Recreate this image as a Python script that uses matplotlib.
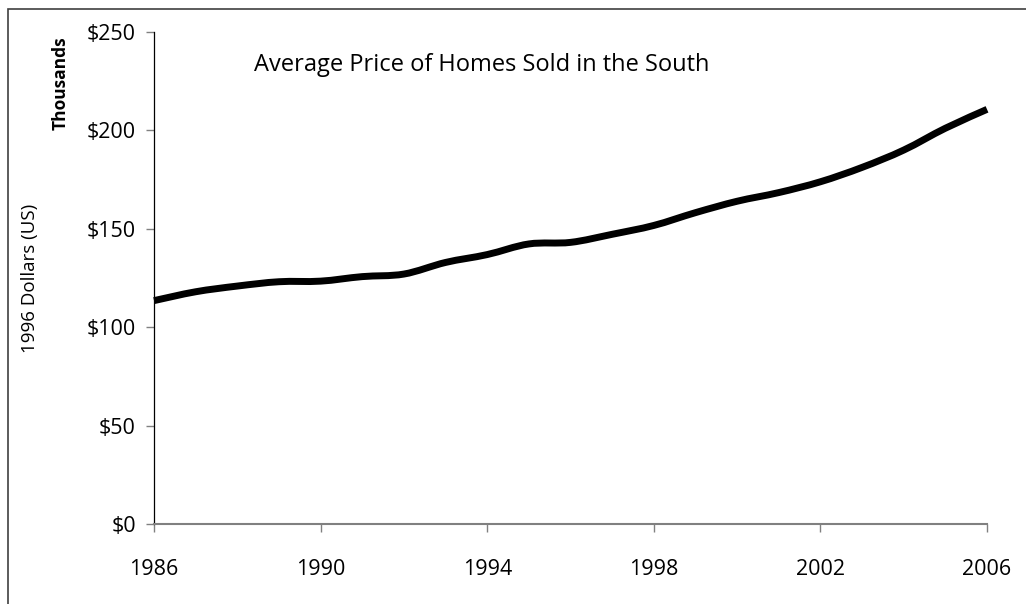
import matplotlib.pyplot as plt
from matplotlib.patches import Rectangle, PathPatch
from matplotlib.path import Path

years = list(range(1986, 2007))
prices = [113.5, 118.0, 120.9, 123.1, 123.4, 125.7, 127.0, 132.9, 136.9, 142.3,
          143.1, 147.2, 151.7, 158.2, 164.0, 168.4, 173.9, 181.2, 190.0, 201.1, 210.7]
yticks = [0, 50, 100, 150, 200, 250]
xticks = [1986, 1990, 1994, 1998, 2002, 2006]

plt.rcParams['font.family'] = ['Open Sans', 'DejaVu Sans']

fig = plt.figure(figsize=(10.26, 6.04), dpi=100)
ax = fig.add_axes([0.1501, 0.1325, 0.962 - 0.1501, 0.947 - 0.1325])


def smooth_path(xs, ys):
    # Excel-style smoothed line: cubic Bezier segments through every point
    verts = [(xs[0], ys[0])]
    codes = [Path.MOVETO]
    n = len(xs)
    for i in range(n - 1):
        x0, y0 = xs[max(i - 1, 0)], ys[max(i - 1, 0)]
        x1, y1 = xs[i], ys[i]
        x2, y2 = xs[i + 1], ys[i + 1]
        x3, y3 = xs[min(i + 2, n - 1)], ys[min(i + 2, n - 1)]
        c1 = (x1 + (x2 - x0) / 6, y1 + (y2 - y0) / 6)
        c2 = (x2 - (x3 - x1) / 6, y2 - (y3 - y1) / 6)
        verts += [c1, c2, (x2, y2)]
        codes += [Path.CURVE4] * 3
    return Path(verts, codes)


ax.add_patch(PathPatch(smooth_path(years, prices), facecolor='none',
                       edgecolor='black', linewidth=5.0, joinstyle='round',
                       capstyle='butt', clip_on=False))

ax.set_xlim(1986, 2006)
ax.set_ylim(0, 250)
ax.set_xticks(xticks)
ax.set_xticklabels([str(x) for x in xticks])
ax.set_yticks(yticks)
ax.set_yticklabels([f"${v}" for v in yticks])

for s in ['top', 'right']:
    ax.spines[s].set_visible(False)
ax.spines['left'].set_color('black')
ax.spines['left'].set_linewidth(0.9)
ax.spines['bottom'].set_color('#808080')
ax.spines['bottom'].set_linewidth(1.5)
ax.tick_params(axis='both', direction='out', length=6, width=1, color='#808080',
               labelsize=15.5, labelcolor='black')
ax.tick_params(axis='x', pad=19)
ax.tick_params(axis='y', pad=7)

fig.text(30 / 1026, 1 - 278 / 604, "1996 Dollars (US)", rotation=90, fontsize=13.5,
         ha='center', va='center')
fig.text(61 / 1026, 1 - 83 / 604, "Thousands", rotation=90, fontsize=12.5,
         fontweight='bold', ha='center', va='center')
fig.text(254 / 1026, 1 - 65 / 604, "Average Price of Homes Sold in the South",
         fontsize=17, ha='left', va='center')

# chart border (right/bottom edges fall outside the image)
fig.patches.append(Rectangle((8 / 1026, -0.1), 1.2, 1 - 9 / 604 + 0.1,
                             transform=fig.transFigure, fill=False,
                             edgecolor='#404040', linewidth=1.2, zorder=0))

fig.savefig("out.png", dpi=100)
